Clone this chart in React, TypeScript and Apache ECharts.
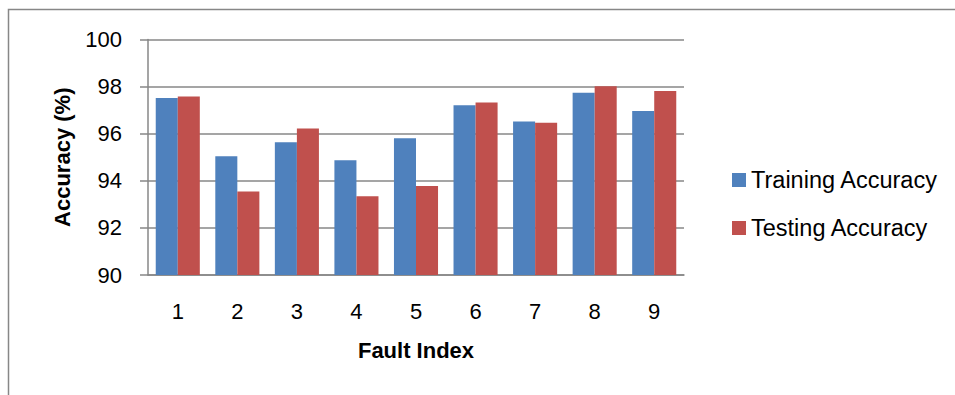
import React, { useEffect, useRef } from "react";
import * as echarts from "echarts";

const categories = ["1", "2", "3", "4", "5", "6", "7", "8", "9"];
const trainingAccuracy = [97.52, 95.04, 95.64, 94.87, 95.81, 97.21, 96.52, 97.74, 96.96];
const testingAccuracy = [97.58, 93.55, 96.22, 93.34, 93.78, 97.33, 96.46, 98.02, 97.81];
const seriesNames = ["Training Accuracy", "Testing Accuracy"];
const yTicks = { min: 90, max: 100, interval: 2 };

const FONT = "'Liberation Sans', Arial, sans-serif";
const GRAY = "#878787";

export default function App() {
  const ref = useRef<HTMLDivElement>(null);
  useEffect(() => {
    if (!ref.current) return;
    const chart = echarts.init(ref.current, undefined, { renderer: "svg" });
    chart.setOption({
      animation: false,
      backgroundColor: "#ffffff",
      textStyle: { fontFamily: FONT },
      graphic: [
        {
          type: "rect",
          shape: { x: 8.5, y: 9.5, width: 1200, height: 1200 },
          style: { fill: "none", stroke: GRAY, lineWidth: 1.5 },
          silent: true,
        },
      ],
      grid: { left: 148, right: 271, top: 39.5, bottom: 120, containLabel: false },
      legend: {
        orient: "vertical",
        left: 727,
        top: 163,
        itemWidth: 14,
        itemHeight: 14,
        itemGap: 24,
        icon: "rect",
        textStyle: { fontSize: 23.5, color: "#000", fontFamily: FONT, lineHeight: 24 },
        data: seriesNames,
      },
      xAxis: {
        type: "category",
        data: categories,
        name: "Fault Index",
        nameLocation: "middle",
        nameGap: 64,
        nameTextStyle: { fontSize: 22, fontWeight: "bold", color: "#000", fontFamily: FONT },
        axisLine: { lineStyle: { color: GRAY, width: 1.5 } },
        axisTick: { show: false },
        axisLabel: { fontSize: 22, color: "#000", margin: 25, fontFamily: FONT },
      },
      yAxis: {
        type: "value",
        min: yTicks.min,
        max: yTicks.max,
        interval: yTicks.interval,
        name: "Accuracy (%)",
        nameLocation: "middle",
        nameGap: 75,
        nameTextStyle: { fontSize: 22, fontWeight: "bold", color: "#000", fontFamily: FONT },
        axisLine: { show: true, lineStyle: { color: GRAY, width: 1.5 } },
        axisTick: { show: true, length: 8, lineStyle: { color: GRAY, width: 1.5 } },
        splitLine: { lineStyle: { color: GRAY, width: 1.5 } },
        axisLabel: { fontSize: 22, color: "#000", margin: 26, fontFamily: FONT },
      },
      series: [
        {
          name: seriesNames[0],
          type: "bar",
          data: trainingAccuracy,
          itemStyle: { color: "#4F81BD" },
          barGap: "0%",
          barCategoryGap: "26%",
        },
        {
          name: seriesNames[1],
          type: "bar",
          data: testingAccuracy,
          itemStyle: { color: "#C0504D" },
          barGap: "0%",
          barCategoryGap: "26%",
        },
      ],
    });
    return () => chart.dispose();
  }, []);
  return (
    <div
      ref={ref}
      style={{ position: "fixed", left: 0, top: 0, width: 955, height: 395 }}
    />
  );
}
